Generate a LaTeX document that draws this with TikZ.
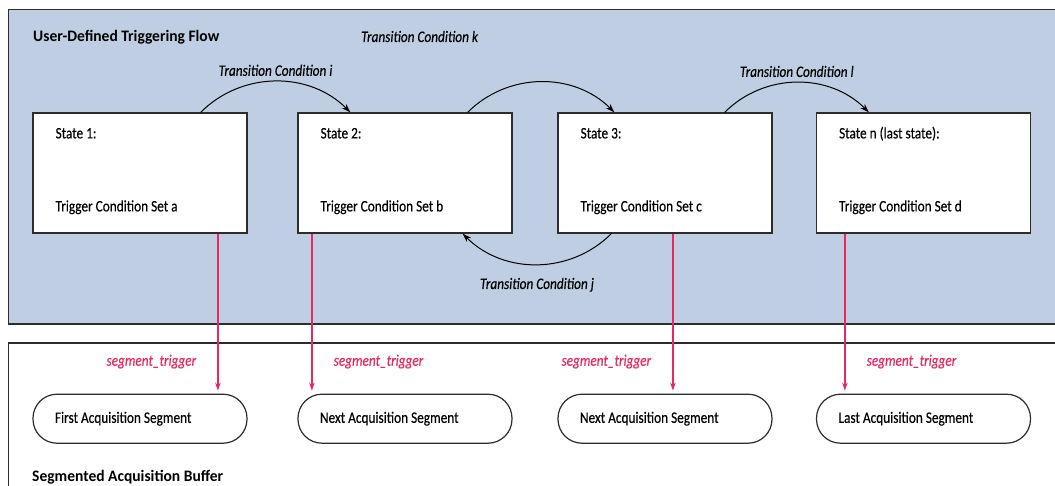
\documentclass[tikz,border=0pt]{standalone}
\usepackage{fontspec}
\setmainfont{Carlito}[FakeStretch=0.83, UprightFeatures={FakeBold=0.3},
  ItalicFeatures={FakeBold=0.3}, BoldFeatures={FakeStretch=0.97}]
\usepackage{xcolor}
\usetikzlibrary{arrows.meta, positioning, calc}
\definecolor{flowblue}{RGB}{191, 206, 227}
\definecolor{trigred}{RGB}{232, 40, 95}
\definecolor{edgegray}{RGB}{45, 45, 45}

\begin{document}
\begin{tikzpicture}[x=1pt, y=-1pt, >=Stealth,
  txt/.style={font=\fontsize{16}{19}\selectfont, inner sep=0pt},
  statebox/.style={draw=edgegray, line width=1.2pt, fill=white,
                   minimum width=214pt, minimum height=120pt},
  segbox/.style={draw=edgegray, line width=1.2pt, fill=white, rounded corners=24pt,
                 minimum width=214pt, minimum height=49pt, text width=170pt, align=flush left,
                 font=\fontsize{16}{19}\selectfont},
  trans/.style={-{Stealth[length=9pt, width=6pt]}, line width=1pt},
  trigarrow/.style={-{Stealth[length=8pt, width=5.5pt]}, draw=trigred, line width=1.6pt,
                    shorten >=3pt}]
  \useasboundingbox (0,0) rectangle (1055,486);
  \clip (0,0) rectangle (1055,486);

  % Panels
  \draw[draw=edgegray, line width=1.3pt, fill=flowblue] (8.5,9.5) rectangle (1070,324);
  \draw[draw=edgegray, line width=1.3pt, fill=white] (8.5,343) rectangle (1070,500);
  \node[txt, anchor=base west, font=\fontsize{16}{19}\selectfont\bfseries] (flowtitle) at (33,42) {User-Defined Triggering Flow};
  \node[txt, anchor=base west, font=\fontsize{16}{19}\selectfont\bfseries] (buftitle) at (32,481) {Segmented Acquisition Buffer};

  % States and segments
  \foreach \i/\x/\head/\set/\seg/\dx/\side in {1/140/{State 1:}/a/First/185.5/left,
      2/405/{State 2:}/b/Next/14.5/right, 3/665/{State 3:}/c/Next/115.5/left,
      4/923.5/{State n (last state):}/d/Last/29/right} {
    \node[statebox] (s\i) at (\x,173) {};
    \node[txt, anchor=base west] (h\i) at ($(s\i.north west)+(23,26)$) {\head};
    \node[txt, anchor=base west] (c\i) at ($(s\i.north west)+(23,99)$) {Trigger Condition Set \set};
    \node[segbox, below=160pt of s\i] (g\i) {{\seg} Acquisition Segment};
    \path (s\i.south west) ++(\dx,0) coordinate (a\i);
    \draw[trigarrow] (a\i) -- (a\i |- g\i.north)
      node[txt, pos=0.8, \side=21pt, text=trigred, font=\fontsize{16}{19}\selectfont\itshape] (t\i) {segment\_trigger};
  }

  % Transitions
  \draw[trans] ($(s1.north east)+(-47,0)$) to[bend left=45]
    node[txt, midway, above=5pt, font=\fontsize{16}{19}\selectfont\itshape] (ti) {Transition Condition i}
    ($(s2.north west)+(53,0)$);
  \draw[trans] ($(s2.north east)+(-45,0)$) to[bend left=45] ($(s3.north west)+(57,0)$);
  \node[txt, anchor=base west, font=\fontsize{16}{19}\selectfont\itshape] (tk) at (361,42) {Transition Condition k};
  \draw[trans] ($(s3.north east)+(-48,0)$) to[bend left=45]
    node[txt, midway, above=5pt, font=\fontsize{16}{19}\selectfont\itshape] (tl) {Transition Condition l}
    ($(s4.north west)+(53,0)$);
  \draw[trans] ($(s3.south west)+(54,0)$) to[bend left=45]
    node[txt, midway, below=13pt, font=\fontsize{16}{19}\selectfont\itshape] (tj) {Transition Condition j}
    ($(s2.south east)+(-50,0)$);
\end{tikzpicture}
\end{document}
